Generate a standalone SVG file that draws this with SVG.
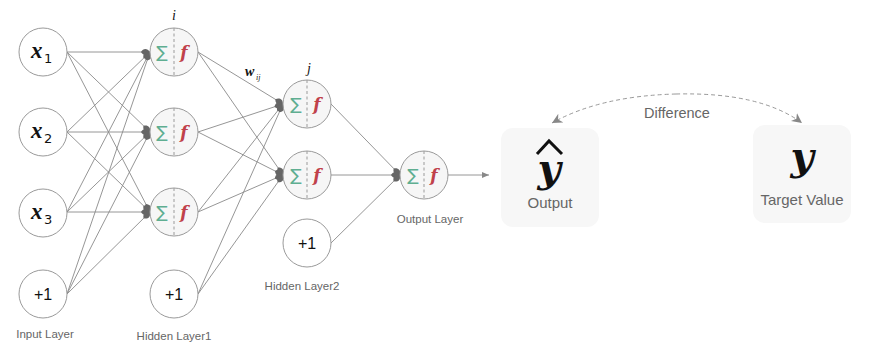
<svg xmlns="http://www.w3.org/2000/svg" width="872" height="355" viewBox="0 0 872 355">
<style>
.edge{stroke:#8a8a8a;stroke-width:0.9;fill:none}
.inode{fill:#ffffff;stroke:#9a9a9a;stroke-width:1}
.cnode{fill:#f6f6f6;stroke:#9a9a9a;stroke-width:1}
.mid{stroke:#9a9a9a;stroke-width:1;stroke-dasharray:3,2.5}
.var{font-family:"Liberation Serif","DejaVu Serif",serif;font-style:italic;font-weight:bold;font-size:23px;fill:#111}
.sub{font-family:"DejaVu Sans","Liberation Sans",sans-serif;font-size:13px;fill:#111}
.plus{font-family:"Liberation Sans",Arial,sans-serif;font-size:16px;fill:#111}
.sig{font-family:"DejaVu Sans",sans-serif;font-size:17px;fill:#5fae91}
.f{font-family:"DejaVu Serif","Liberation Serif",serif;font-style:italic;font-weight:bold;font-size:17px;fill:#c0414b}
.lbl{font-family:"Liberation Sans",Arial,sans-serif;font-size:11.5px;fill:#666}
.lbl2{font-family:"Liberation Sans",Arial,sans-serif;font-size:15px;fill:#666}
.idx{font-family:"Liberation Serif",serif;font-style:italic;font-size:14px;fill:#111}
.big{font-family:"DejaVu Serif","Liberation Serif",serif;font-style:italic;font-weight:bold;font-size:40px;fill:#111}
.box{fill:#f7f7f7;stroke:none}
</style>
<defs>
<marker id="dot" markerUnits="userSpaceOnUse" markerWidth="12" markerHeight="12" refX="9" refY="5" orient="auto">
<path d="M0,5 C2,1.5 6,0.5 9,5 C6,9.5 2,8.5 0,5 Z" fill="#666"/>
</marker>
<marker id="arr" markerUnits="userSpaceOnUse" markerWidth="10" markerHeight="10" refX="7" refY="4" orient="auto">
<path d="M0,1 L7,4 L0,7 Z" fill="#888"/>
</marker>
<marker id="darr" markerUnits="userSpaceOnUse" markerWidth="14" markerHeight="14" refX="10" refY="5" orient="auto">
<path d="M0,0 L10,5 L0,10 L3,5 Z" fill="#888"/>
</marker>
</defs>

<g id="connectors">
<line class="edge" x1="67" y1="52" x2="150" y2="52" marker-end="url(#dot)"/>
<line class="edge" x1="67" y1="52" x2="150" y2="132" marker-end="url(#dot)"/>
<line class="edge" x1="67" y1="52" x2="150" y2="212" marker-end="url(#dot)"/>
<line class="edge" x1="67" y1="132" x2="150" y2="52" marker-end="url(#dot)"/>
<line class="edge" x1="67" y1="132" x2="150" y2="132" marker-end="url(#dot)"/>
<line class="edge" x1="67" y1="132" x2="150" y2="212" marker-end="url(#dot)"/>
<line class="edge" x1="67" y1="212" x2="150" y2="52" marker-end="url(#dot)"/>
<line class="edge" x1="67" y1="212" x2="150" y2="132" marker-end="url(#dot)"/>
<line class="edge" x1="67" y1="212" x2="150" y2="212" marker-end="url(#dot)"/>
<line class="edge" x1="67" y1="294" x2="150" y2="52" marker-end="url(#dot)"/>
<line class="edge" x1="67" y1="294" x2="150" y2="132" marker-end="url(#dot)"/>
<line class="edge" x1="67" y1="294" x2="150" y2="212" marker-end="url(#dot)"/>
<line class="edge" x1="198" y1="52" x2="283" y2="104" marker-end="url(#dot)"/>
<line class="edge" x1="198" y1="52" x2="283" y2="175" marker-end="url(#dot)"/>
<line class="edge" x1="198" y1="132" x2="283" y2="104" marker-end="url(#dot)"/>
<line class="edge" x1="198" y1="132" x2="283" y2="175" marker-end="url(#dot)"/>
<line class="edge" x1="198" y1="212" x2="283" y2="104" marker-end="url(#dot)"/>
<line class="edge" x1="198" y1="212" x2="283" y2="175" marker-end="url(#dot)"/>
<line class="edge" x1="198" y1="294" x2="283" y2="104" marker-end="url(#dot)"/>
<line class="edge" x1="198" y1="294" x2="283" y2="175" marker-end="url(#dot)"/>
<line class="edge" x1="331" y1="104" x2="400" y2="175" marker-end="url(#dot)"/>
<line class="edge" x1="331" y1="175" x2="400" y2="175" marker-end="url(#dot)"/>
<line class="edge" x1="331" y1="243" x2="400" y2="175" marker-end="url(#dot)"/>
<line class="edge" x1="448" y1="175" x2="489" y2="175" marker-end="url(#arr)"/>
<path d="M676,94 Q600,96 552,123" fill="none" stroke="#999" stroke-width="1" stroke-dasharray="4,3" marker-end="url(#darr)"/>
<path d="M676,94 Q760,92 802,123" fill="none" stroke="#999" stroke-width="1" stroke-dasharray="4,3" marker-end="url(#darr)"/>
</g>

<g id="input-x1"><circle class="inode" cx="43" cy="52" r="24"/><text class="var" x="31" y="58">x</text><text class="sub" x="44" y="63">1</text></g>
<g id="input-x2"><circle class="inode" cx="43" cy="132" r="24"/><text class="var" x="31" y="138">x</text><text class="sub" x="44" y="143">2</text></g>
<g id="input-x3"><circle class="inode" cx="43" cy="213" r="24"/><text class="var" x="31" y="219">x</text><text class="sub" x="44" y="224">3</text></g>
<g id="input-bias"><circle class="inode" cx="43" cy="294" r="24"/><text class="plus" x="43" y="300" text-anchor="middle">+1</text></g>

<g id="h1-1"><circle class="cnode" cx="174" cy="52" r="24"/><line class="mid" x1="174" y1="28" x2="174" y2="76"/><text class="sig" x="162" y="58" text-anchor="middle">∑</text><text class="f" x="184" y="58" text-anchor="middle">f</text></g>
<g id="h1-2"><circle class="cnode" cx="174" cy="132" r="24"/><line class="mid" x1="174" y1="108" x2="174" y2="156"/><text class="sig" x="162" y="138" text-anchor="middle">∑</text><text class="f" x="184" y="138" text-anchor="middle">f</text></g>
<g id="h1-3"><circle class="cnode" cx="174" cy="212" r="24"/><line class="mid" x1="174" y1="188" x2="174" y2="236"/><text class="sig" x="162" y="218" text-anchor="middle">∑</text><text class="f" x="184" y="218" text-anchor="middle">f</text></g>
<g id="h1-bias"><circle class="inode" cx="174" cy="294" r="24"/><text class="plus" x="174" y="300" text-anchor="middle">+1</text></g>

<g id="h2-1"><circle class="cnode" cx="307" cy="104" r="24"/><line class="mid" x1="307" y1="80" x2="307" y2="128"/><text class="sig" x="296" y="110" text-anchor="middle">∑</text><text class="f" x="317" y="110" text-anchor="middle">f</text></g>
<g id="h2-2"><circle class="cnode" cx="307" cy="175" r="24"/><line class="mid" x1="307" y1="151" x2="307" y2="199"/><text class="sig" x="296" y="181" text-anchor="middle">∑</text><text class="f" x="317" y="181" text-anchor="middle">f</text></g>
<g id="h2-bias"><circle class="inode" cx="307" cy="243" r="24"/><text class="plus" x="307" y="249" text-anchor="middle">+1</text></g>

<g id="out-node"><circle class="cnode" cx="424" cy="175" r="24"/><line class="mid" x1="424" y1="151" x2="424" y2="199"/><text class="sig" x="413" y="181" text-anchor="middle">∑</text><text class="f" x="434" y="181" text-anchor="middle">f</text></g>

<g id="labels">
<text class="idx" x="174" y="20" text-anchor="middle">i</text>
<text class="idx" x="309" y="73" text-anchor="middle">j</text>
<text class="idx" x="245" y="76" font-weight="bold">w</text><text class="idx" x="256" y="80" style="font-size:8px">ij</text>
<text class="lbl" x="45" y="338" text-anchor="middle">Input Layer</text>
<text class="lbl" x="174" y="340" text-anchor="middle">Hidden Layer1</text>
<text class="lbl" x="302" y="290" text-anchor="middle">Hidden Layer2</text>
<text class="lbl" x="430" y="223" text-anchor="middle">Output Layer</text>
<text class="lbl2" x="677" y="118" text-anchor="middle" style="font-size:14.5px">Difference</text>
</g>

<g id="output-box"><rect class="box" x="501" y="128" width="98" height="99" rx="12"/><text class="big" x="549" y="182" text-anchor="middle">y</text><path d="M537,154 L549,141 L562,154" fill="none" stroke="#111" stroke-width="3" stroke-linejoin="miter"/><text class="lbl2" x="550" y="208" text-anchor="middle">Output</text></g>
<g id="target-box"><rect class="box" x="753" y="125" width="98" height="98" rx="12"/><text class="big" x="802" y="170" text-anchor="middle">y</text><text class="lbl2" x="802" y="205" text-anchor="middle">Target Value</text></g>
</svg>
